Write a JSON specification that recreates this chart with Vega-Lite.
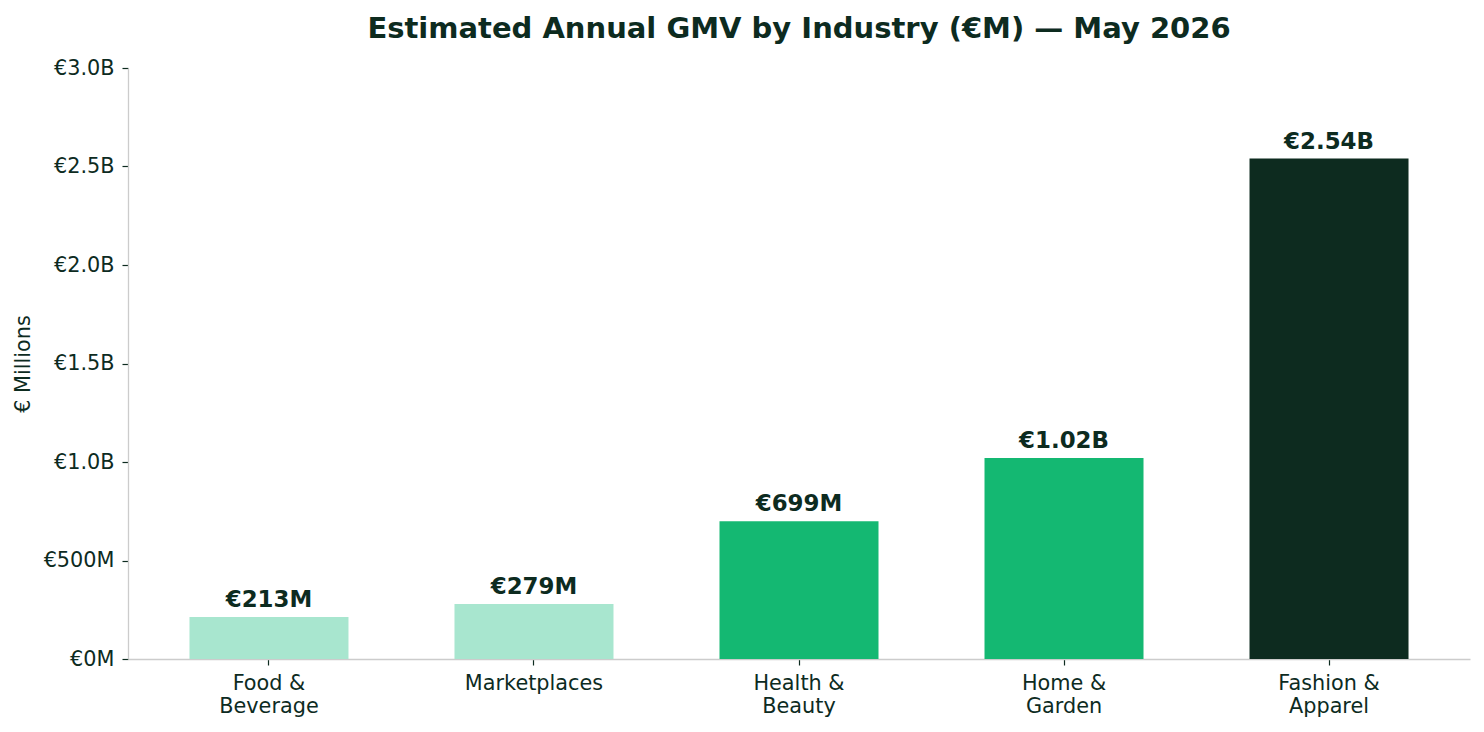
{
  "$schema": "https://vega.github.io/schema/vega-lite/v6.json",
  "width": 1342,
  "height": 591,
  "autosize": {"type": "none"},
  "padding": {"left": 128, "top": 68, "right": 14, "bottom": 73},
  "background": "white",
  "title": {
    "text": "Estimated Annual GMV by Industry (€M) — May 2026",
    "font": "DejaVu Sans",
    "fontSize": 29,
    "fontWeight": "bold",
    "color": "#0d2b1f",
    "anchor": "middle",
    "offset": 13
  },
  "config": {
    "view": {"stroke": null},
    "font": "DejaVu Sans"
  },
  "data": {
    "values": [
      {"industry": "Food & Beverage", "gmv": 213},
      {"industry": "Marketplaces", "gmv": 279},
      {"industry": "Health & Beauty", "gmv": 699},
      {"industry": "Home & Garden", "gmv": 1020},
      {"industry": "Fashion & Apparel", "gmv": 2540}
    ]
  },
  "transform": [
    {
      "calculate": "datum.gmv >= 1000 ? '€' + format(datum.gmv / 1000, '.2f') + 'B' : '€' + format(datum.gmv, '.0f') + 'M'",
      "as": "label"
    }
  ],
  "encoding": {
    "x": {
      "field": "industry",
      "type": "nominal",
      "sort": null,
      "scale": {"paddingInner": 0.4, "paddingOuter": 0.232},
      "axis": {
        "title": null,
        "labelAngle": 0,
        "labelExpr": "split(replace(datum.label, '& ', '&|'), '|')",
        "labelFont": "DejaVu Sans",
        "labelFontSize": 20.8,
        "labelColor": "#0d2b1f",
        "labelLineHeight": 23,
        "labelPadding": 8,
        "domainColor": "#cccccc",
        "domainWidth": 1.3,
        "tickColor": "#0d2b1f",
        "tickSize": 6,
        "tickWidth": 1.2
      }
    },
    "y": {
      "field": "gmv",
      "type": "quantitative",
      "scale": {"domain": [0, 3000], "nice": false},
      "axis": {
        "title": "€ Millions",
        "titleFont": "DejaVu Sans",
        "titleFontSize": 20.8,
        "titleFontWeight": "normal",
        "titleColor": "#0d2b1f",
        "titlePadding": 10,
        "values": [0, 500, 1000, 1500, 2000, 2500, 3000],
        "labelExpr": "datum.value >= 1000 ? '€' + format(datum.value / 1000, '.1f') + 'B' : '€' + datum.value + 'M'",
        "labelFont": "DejaVu Sans",
        "labelFontSize": 20.8,
        "labelColor": "#0d2b1f",
        "labelPadding": 8,
        "grid": false,
        "domainColor": "#cccccc",
        "domainWidth": 1.3,
        "tickColor": "#0d2b1f",
        "tickSize": 6,
        "tickWidth": 1.2
      }
    }
  },
  "layer": [
    {
      "mark": {"type": "bar"},
      "encoding": {
        "color": {
          "field": "industry",
          "type": "nominal",
          "legend": null,
          "scale": {
            "domain": ["Food & Beverage", "Marketplaces", "Health & Beauty", "Home & Garden", "Fashion & Apparel"],
            "range": ["#a8e6cf", "#a8e6cf", "#14b872", "#14b872", "#0d2b1f"]
          }
        }
      }
    },
    {
      "mark": {
        "type": "text",
        "baseline": "alphabetic",
        "dy": -10,
        "font": "DejaVu Sans",
        "fontSize": 22.9,
        "fontWeight": "bold",
        "color": "#0d2b1f"
      },
      "encoding": {
        "text": {"field": "label", "type": "nominal"}
      }
    }
  ]
}
